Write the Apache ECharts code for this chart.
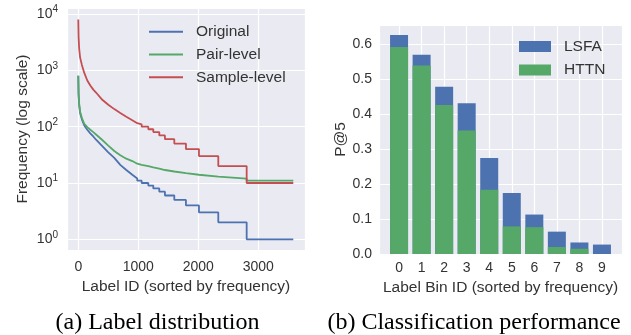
<!DOCTYPE html>
<html>
<head>
<meta charset="utf-8">
<script src="https://cdn.jsdelivr.net/npm/echarts@6/dist/echarts.min.js"></script>
<style>
  html, body { margin: 0; padding: 0; background: #fff; }
  #chart { width: 631px; height: 335px; }
</style>
</head>
<body>
<div id="chart"></div>
<script>
// (a) label distribution: smooth head of each curve, then the integer steps of the tail
var headX = [0, 5, 15, 30, 60, 100, 150, 200, 250, 300, 400, 500, 600, 700, 800, 900, 983];
var originalHead = [800, 380, 240, 175, 135, 105, 88, 76, 67, 58, 45, 35, 28, 21, 17, 14, 12];
var pairHead = [800, 390, 255, 185, 142, 112, 98, 88, 80, 72, 58, 46, 37, 31, 27, 24.5, 22];
var sampleHead = [8000, 4000, 2400, 1700, 1250, 900, 660, 540, 455, 400, 300, 245, 205, 175, 150, 130, 115];
var stepEdges = [983, 1056, 1167, 1250, 1350, 1444, 1600, 1794, 2011, 2333, 2806, 3583];
var originalSteps = [11, 10, 9, 8, 7, 6, 5, 4, 3, 2, 1];
var pairSteps = [21, 20, 19, 18, 17, 16, 15, 14, 13, 12, 11];
var sampleSteps = [110, 100, 90, 80, 70, 60, 50, 40, 30, 20, 10];

// (b) classification performance
var binIds = [0, 1, 2, 3, 4, 5, 6, 7, 8, 9];
var lsfa = [0.627, 0.571, 0.479, 0.432, 0.275, 0.175, 0.113, 0.064, 0.033, 0.027];
var httn = [0.593, 0.540, 0.427, 0.354, 0.184, 0.079, 0.077, 0.020, 0.015, 0];

var txt = '#333';
var font = 'Liberation Sans';

function curve(head, steps) {
  var pts = headX.map(function (x, i) { return [x, head[i]]; });
  steps.forEach(function (v, i) {
    pts.push([stepEdges[i], v]);
    pts.push([stepEdges[i + 1], v]);
  });
  return pts;
}
function pairs(xs, ys) {
  return xs.map(function (x, i) { return [x, ys[i]]; });
}

var chart = echarts.init(document.getElementById('chart'));
var option = {
  animation: false,
  textStyle: { fontFamily: font },
  grid: [
    { left: 67, top: 8, width: 238, height: 242, show: true, backgroundColor: '#EAEAF2', borderWidth: 0 },
    { left: 379, top: 25, width: 243, height: 229, show: true, backgroundColor: '#EAEAF2', borderWidth: 0 }
  ],
  xAxis: [
    {
      gridIndex: 0, type: 'value', min: -188, max: 3778,
      name: 'Label ID (sorted by frequency)', nameLocation: 'middle', nameGap: 27,
      nameTextStyle: { fontSize: 15.5, color: txt },
      axisLine: { show: false }, axisTick: { show: false },
      axisLabel: { fontSize: 14, color: txt, margin: 10, showMinLabel: false, showMaxLabel: false,
        formatter: function (v) { return String(v); } },
      splitLine: { show: true, lineStyle: { color: '#fff', width: 1.2 } }
    },
    {
      gridIndex: 1, type: 'value', min: -0.89, max: 9.89, splitNumber: 10,
      name: 'Label Bin ID (sorted by frequency)', nameLocation: 'middle', nameGap: 23,
      nameTextStyle: { fontSize: 15.5, color: txt },
      axisLine: { show: false }, axisTick: { show: false },
      axisLabel: { fontSize: 14, color: txt, margin: 7, showMinLabel: false, showMaxLabel: false },
      splitLine: { show: true, lineStyle: { color: '#fff', width: 1.2 } }
    }
  ],
  yAxis: [
    {
      gridIndex: 0, type: 'log', logBase: 10, min: 0.646, max: 12790,
      name: 'Frequency (log scale)', nameLocation: 'middle', nameGap: 36,
      nameTextStyle: { fontSize: 15.5, color: txt },
      axisLine: { show: false }, axisTick: { show: false },
      axisLabel: {
        margin: 9, showMinLabel: false, showMaxLabel: false,
        formatter: function (v) {
          return '{b|10}{s|' + Math.round(Math.log(v) / Math.LN10) + '}';
        },
        rich: {
          b: { fontSize: 14, color: txt, fontFamily: font },
          s: { fontSize: 10, color: txt, fontFamily: font, padding: [0, 0, 9, 0] }
        }
      },
      splitLine: { show: true, lineStyle: { color: '#fff', width: 1.2 } }
    },
    {
      gridIndex: 1, type: 'value', min: 0, max: 0.656,
      name: 'P@5', nameLocation: 'middle', nameGap: 29,
      nameTextStyle: { fontSize: 15.5, color: txt },
      axisLine: { show: false }, axisTick: { show: false },
      axisLabel: { fontSize: 14, color: txt, margin: 7, showMaxLabel: false,
        formatter: function (v) { return v.toFixed(1); } },
      splitLine: { show: true, lineStyle: { color: '#fff', width: 1.2 } }
    }
  ],
  legend: [
    {
      data: ['Original', 'Pair-level', 'Sample-level'], orient: 'vertical',
      left: 149, top: 22.7, padding: 0, itemGap: 4.8, itemWidth: 34, itemHeight: 2,
      icon: 'rect', textStyle: { fontSize: 15.5, color: txt, lineHeight: 18, padding: [0, 0, 0, 8] }
    },
    {
      data: ['LSFA', 'HTTN'], orient: 'vertical',
      left: 519, top: 37.5, padding: 0, itemGap: 5.5, itemWidth: 32, itemHeight: 11,
      icon: 'rect', textStyle: { fontSize: 15.5, color: txt, lineHeight: 18, padding: [0, 0, 0, 8] }
    }
  ],
  series: [
    { name: 'Original', type: 'line', xAxisIndex: 0, yAxisIndex: 0, showSymbol: false,
      color: '#4C72B0', lineStyle: { width: 1.8 }, data: curve(originalHead, originalSteps) },
    { name: 'Pair-level', type: 'line', xAxisIndex: 0, yAxisIndex: 0, showSymbol: false,
      color: '#55A868', lineStyle: { width: 1.8 }, data: curve(pairHead, pairSteps) },
    { name: 'Sample-level', type: 'line', xAxisIndex: 0, yAxisIndex: 0, showSymbol: false,
      color: '#C44E52', lineStyle: { width: 1.8 }, data: curve(sampleHead, sampleSteps) },
    { name: 'LSFA', type: 'bar', xAxisIndex: 1, yAxisIndex: 1, barWidth: 18, barGap: '-100%',
      color: '#4C72B0', data: pairs(binIds, lsfa) },
    { name: 'HTTN', type: 'bar', xAxisIndex: 1, yAxisIndex: 1, barWidth: 18, barGap: '-100%',
      color: '#55A868', data: pairs(binIds, httn) }
  ],
  graphic: [
    { type: 'text', x: 157.5, y: 323, style: { text: '(a) Label distribution', fill: '#000',
      font: '24px "Liberation Serif"', textAlign: 'center', textVerticalAlign: 'middle' } },
    { type: 'text', x: 474, y: 323, style: { text: '(b) Classification performance', fill: '#000',
      font: '24px "Liberation Serif"', textAlign: 'center', textVerticalAlign: 'middle' } }
  ]
};
chart.setOption(option);
</script>
</body>
</html>
